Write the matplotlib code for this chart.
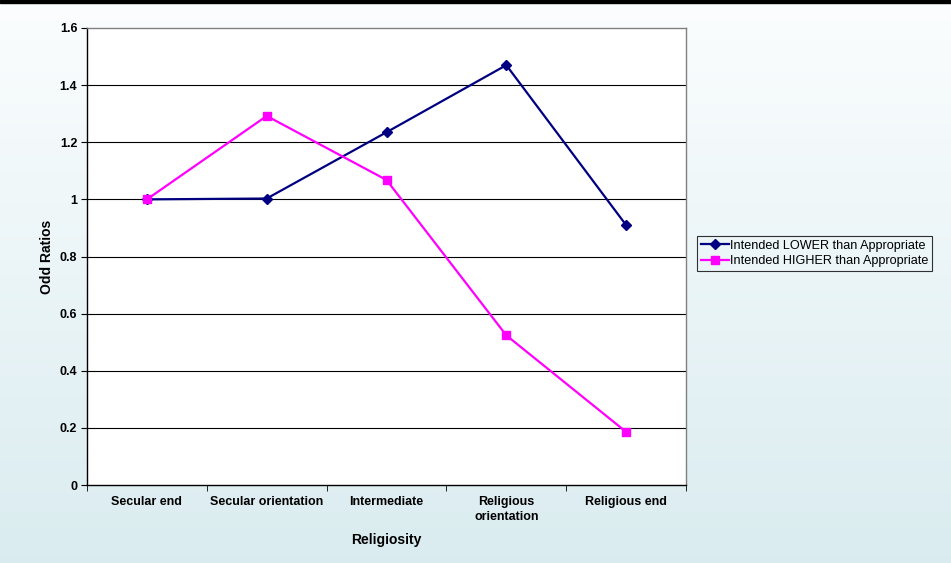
import matplotlib
matplotlib.use("Agg")
import matplotlib.pyplot as plt
import numpy as np

categories = ["Secular end", "Secular orientation", "Intermediate", "Religious\norientation", "Religious end"]
lower = [1.0, 1.003, 1.235, 1.47, 0.91]
higher = [1.0, 1.292, 1.068, 0.524, 0.186]
yticks = [0, 0.2, 0.4, 0.6, 0.8, 1.0, 1.2, 1.4, 1.6]
ytick_labels = ["0", "0.2", "0.4", "0.6", "0.8", "1", "1.2", "1.4", "1.6"]

plt.rcParams['font.family'] = ['Liberation Sans', 'DejaVu Sans']

W, H = 951, 563
fig = plt.figure(figsize=(W / 100, H / 100), dpi=100)

# background gradient
bg = fig.add_axes([0, 0, 1, 1], zorder=-10)
grad = np.linspace(0, 1, 256).reshape(-1, 1)
top = np.array([0.985, 0.993, 0.996])
bot = np.array([0.855, 0.925, 0.940])
img = top + (bot - top) * grad[:, :, None].repeat(1, axis=1)
bg.imshow(img, aspect='auto', extent=[0, 1, 0, 1], origin='upper')
bg.set_xlim(0, 1); bg.set_ylim(0, 1)
bg.axis('off')
# top black bar
fig.add_artist(plt.Rectangle((0, 1 - 3 / H), 1, 3 / H, transform=fig.transFigure, color='black', zorder=5))

L, R, T, B = 87, 686, 28, 485
ax = fig.add_axes([L / W, 1 - B / H, (R - L) / W, (B - T) / H])
ax.set_facecolor('white')
x = np.arange(len(categories))
ax.set_xlim(-0.5, len(categories) - 0.5)
ax.set_ylim(0, 1.6)

for yv in yticks[1:-1]:
    ax.axhline(yv, color='black', lw=0.8, zorder=1)

ax.plot(x, lower, color='#000080', lw=1.6, marker='D', ms=5, mfc='#000080', mec='#000080',
        label='Intended LOWER than Appropriate', zorder=3)
ax.plot(x, higher, color='#FF00FF', lw=1.6, marker='s', ms=6, mfc='#FF00FF', mec='#FF00FF',
        label='Intended HIGHER than Appropriate', zorder=3)

ax.set_yticks(yticks)
ax.set_yticklabels(ytick_labels, fontsize=9, fontweight='bold')
ax.set_xticks(x)
ax.set_xticklabels(categories, fontsize=9, fontweight='bold', linespacing=1.35)
ax.set_xticks(np.arange(-0.5, len(categories), 1), minor=True)
ax.tick_params(axis='x', which='major', length=0, pad=8)
ax.tick_params(axis='x', which='minor', length=4, direction='out', color='black')
ax.tick_params(axis='y', length=4, direction='out', color='black', pad=3)

for s in ['top', 'right']:
    ax.spines[s].set_color('#808080')
    ax.spines[s].set_linewidth(1.0)
for s in ['left', 'bottom']:
    ax.spines[s].set_color('black')
    ax.spines[s].set_linewidth(1.0)

ax.set_ylabel('Odd Ratios', fontsize=10, fontweight='bold', labelpad=4)
ax.set_xlabel('Religiosity', fontsize=10, fontweight='bold', labelpad=7)

leg = fig.legend(loc='upper left', bbox_to_anchor=(697 / W, 1 - 236 / H), fontsize=9.1,
                 frameon=True, fancybox=False, edgecolor='black', facecolor='none',
                 handlelength=2.2, handletextpad=0.1, borderpad=0.3, labelspacing=0.25,
                 borderaxespad=0)
leg.get_frame().set_linewidth(0.8)

fig.savefig('out.png', dpi=100)
